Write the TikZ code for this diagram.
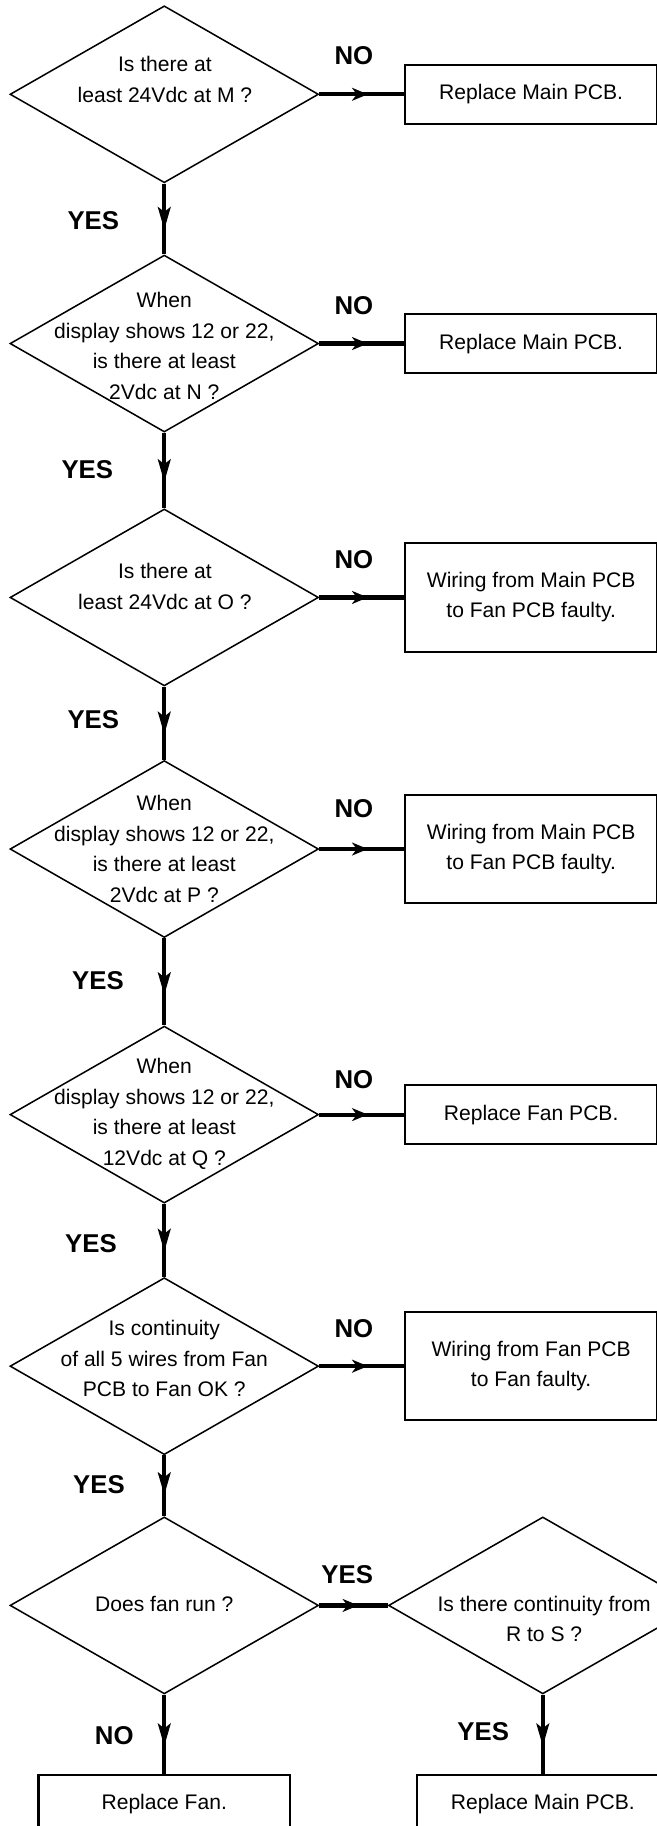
\documentclass[tikz,border=0pt]{standalone}
\usepackage{fontspec}
\setmainfont{Liberation Sans}
\usepackage{tikz}
\usetikzlibrary{arrows.meta,decorations.markings,shapes.geometric}

\begin{document}
\begin{tikzpicture}[
  decision/.style={draw,shape=diamond,minimum width=9.26cm,minimum height=5.31cm,inner sep=0pt,line width=1.3pt},
  action/.style={draw,line width=1.8pt,minimum width=7.55cm,minimum height=1.78cm,align=center,font=\fontsize{18}{25.5}\selectfont},
  tallaction/.style={action,minimum height=3.25cm},
  question/.style={align=center,inner sep=0pt,font=\fontsize{18}{26}\selectfont},
  answer/.style={font=\fontsize{22}{26}\selectfont\bfseries,inner sep=0pt},
  flow/.style={line width=3.6pt,postaction={decorate},
    decoration={markings,mark=at position 0.57 with {\arrow{Stealth[length=4.8mm,width=4mm,inset=1.5mm,line width=0pt]}}}},
  downflow/.style={line width=3.8pt,postaction={decorate},
    decoration={markings,mark=at position 0.65 with {\arrow{Stealth[length=6.9mm,width=4mm,inset=1.6mm,line width=0pt]}}}}
]
\useasboundingbox (0,0) rectangle (19.71,-54.8);
\clip (0,0) rectangle (19.71,-54.8);

\node[decision] (d1) at (4.93,-2.83) {};
\node[decision] (d2) at (4.93,-10.31) {};
\node[decision] (d3) at (4.93,-17.93) {};
\node[decision] (d4) at (4.93,-25.48) {};
\node[decision] (d5) at (4.93,-33.45) {};
\node[decision] (d6) at (4.93,-41.00) {};
\node[decision] (d7) at (4.93,-48.18) {};
\node[decision] (d8) at (16.29,-48.18) {};

\node[question] (q1) at (4.95,-2.39) {Is there at\\least 24Vdc at M ?};
\node[question] (q2) at (4.93,-10.38) {When\\display shows 12 or 22,\\is there at least\\2Vdc at N ?};
\node[question] (q3) at (4.95,-17.60) {Is there at\\least 24Vdc at O ?};
\node[question] (q4) at (4.93,-25.48) {When\\display shows 12 or 22,\\is there at least\\2Vdc at P ?};
\node[question] (q5) at (4.93,-33.43) {When\\display shows 12 or 22,\\is there at least\\12Vdc at Q ?};
\node[question] (q6) at (4.93,-40.77) {Is continuity\\of all 5 wires from Fan\\PCB to Fan OK ?};
\node[question] (q7) at (4.93,-48.13) {Does fan run ?};
\node[question] (q8) at (16.33,-48.58) {Is there continuity from\\R to S ?};

\node[action] (b1) at (15.94,-2.83) {Replace Main PCB.};
\node[action] (b2) at (15.94,-10.31) {Replace Main PCB.};
\node[tallaction] (b3) at (15.94,-17.93) {Wiring from Main PCB\\to Fan PCB faulty.};
\node[tallaction] (b4) at (15.94,-25.48) {Wiring from Main PCB\\to Fan PCB faulty.};
\node[action] (b5) at (15.94,-33.45) {Replace Fan PCB.};
\node[tallaction] (b6) at (15.94,-41.00) {Wiring from Fan PCB\\to Fan faulty.};
\node[action] (b7) at (4.93,-54.15) {Replace Fan.};
\node[action] (b8) at (16.29,-54.15) {Replace Main PCB.};

\draw[flow] (d1.east) -- (b1.west);
\draw[flow] (d2.east) -- (b2.west);
\draw[flow] (d3.east) -- (b3.west);
\draw[flow] (d4.east) -- (b4.west);
\draw[flow] (d5.east) -- (b5.west);
\draw[flow] (d6.east) -- (b6.west);
\draw[flow] (d7.east) -- (d8.west);

\draw[downflow] (d1.south) -- (d2.north);
\draw[downflow] (d2.south) -- (d3.north);
\draw[downflow] (d3.south) -- (d4.north);
\draw[downflow] (d4.south) -- (d5.north);
\draw[downflow] (d5.south) -- (d6.north);
\draw[downflow] (d6.south) -- (d7.north);
\draw[downflow] (d7.south) -- (b7.north);
\draw[downflow] (d8.south) -- (b8.north);

\node[answer] (n1) at (10.62,-1.68) {NO};
\node[answer] (n2) at (10.62,-9.16) {NO};
\node[answer] (n3) at (10.62,-16.78) {NO};
\node[answer] (n4) at (10.62,-24.28) {NO};
\node[answer] (n5) at (10.62,-32.40) {NO};
\node[answer] (n6) at (10.62,-39.88) {NO};
\node[answer] (n7) at (3.43,-52.08) {NO};

\node[answer] (y1) at (2.80,-6.61) {YES};
\node[answer] (y2) at (2.62,-14.08) {YES};
\node[answer] (y3) at (2.80,-21.60) {YES};
\node[answer] (y4) at (2.94,-29.43) {YES};
\node[answer] (y5) at (2.73,-37.33) {YES};
\node[answer] (y6) at (2.97,-44.56) {YES};
\node[answer] (y7) at (10.42,-47.25) {YES};
\node[answer] (y8) at (14.50,-51.97) {YES};
\end{tikzpicture}
\end{document}
